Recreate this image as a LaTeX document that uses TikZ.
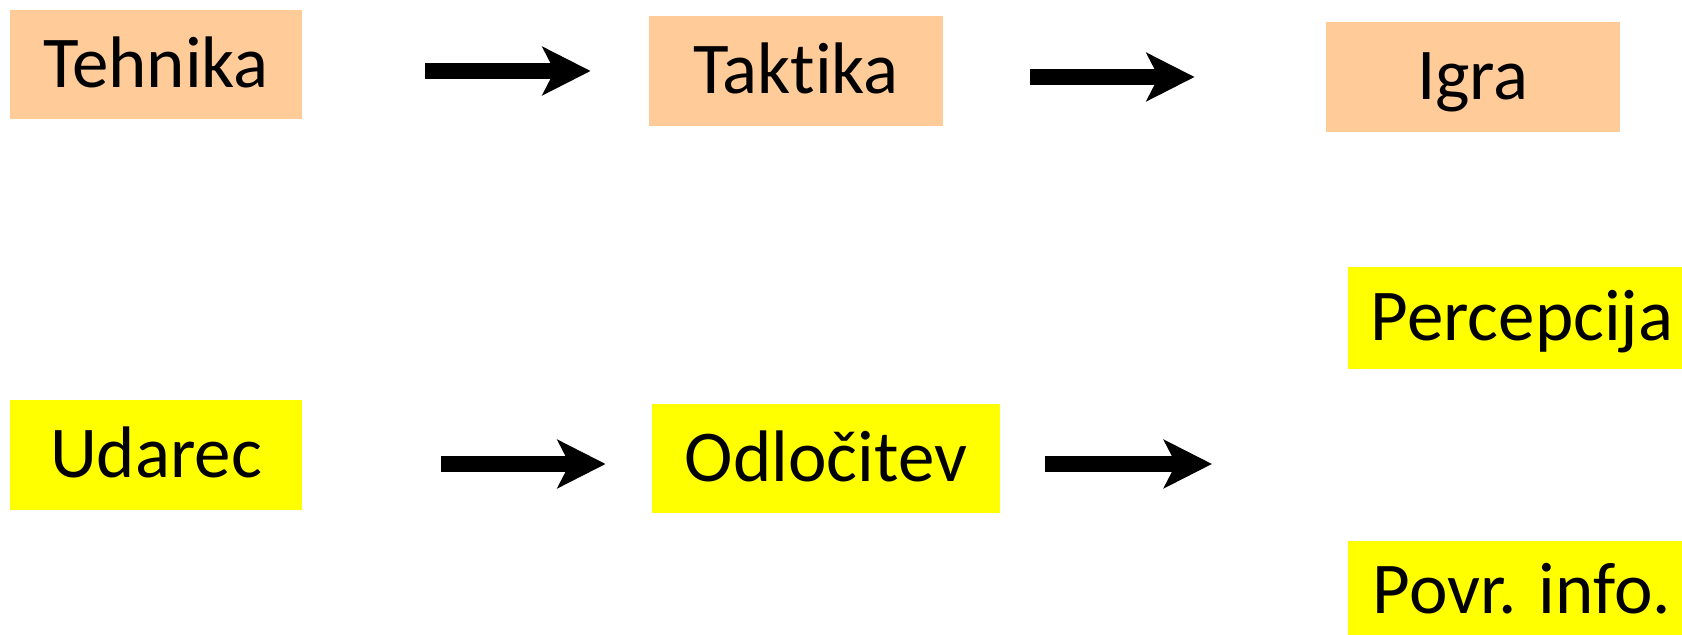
\documentclass[tikz,border=0pt]{standalone}
\usepackage{fontspec}
\setmainfont{Carlito}[Ligatures=NoCommon]
\usetikzlibrary{arrows.meta}

\begin{document}
\begin{tikzpicture} [x=0.5pt, y=-0.5pt,
				level/.style={
				% The shape:
				rectangle,
				% The size:
				inner sep=0pt,
				minimum height=54.5pt,
				minimum width=146pt,
				% The text:
				text height=23pt,
				text depth=0pt,
				% The filling:
				fill=peach,
				font=\fontsize{36.5}{44}\selectfont
    				},
				skill/.style={
				level,
				% The filling:
				fill=brightyellow
    				},
				bigarrow/.style={
				line width=8pt,
				-{Stealth[length=24pt, width=24pt, inset=6pt]}
    				},
				]
    \definecolor{peach}{RGB}{255,204,153}
    \definecolor{brightyellow}{RGB}{255,255,0}
    \clip (0,0) rectangle (1682,635);
    % top row
    \node [level] (tehnika) at (156,64.5) {Tehnika};
    \node [level, minimum width=147pt, minimum height=55pt] (taktika) at (796,71) {Taktika};
    \node [level, minimum width=147pt, minimum height=55.25pt] (igra) at (1473,77) {Igra};
    % bottom row
    \node [skill, minimum height=54.75pt] (udarec) at (156,455) {Udarec};
    \node [skill, minimum width=174pt] (odlocitev) at (826,458.5) {Odločitev};
    \node [skill, minimum width=174pt, minimum height=51pt] (percepcija) at (1522,318) {Percepcija};
    \node [skill, minimum width=174pt, minimum height=50pt] (povr) at (1522,591) {Povr. info.};
    \coordinate (naprej) at (1212,464);
    % arrows
    \draw [bigarrow, shorten <=61.5pt, shorten >=29pt] (tehnika.east |- taktika.west) -- (taktika.west);
    \draw [bigarrow, shorten <=43.5pt, shorten >=65.5pt] (taktika.east |- igra.west) -- (igra.west);
    \draw [bigarrow, shorten <=69.5pt, shorten >=23pt] ([yshift=-2.75pt]odlocitev.west -| udarec.east) -- ([yshift=-2.75pt]odlocitev.west);
    \draw [bigarrow, shorten <=22.5pt] (odlocitev.east |- naprej) -- (naprej);
\end{tikzpicture}
\end{document}
